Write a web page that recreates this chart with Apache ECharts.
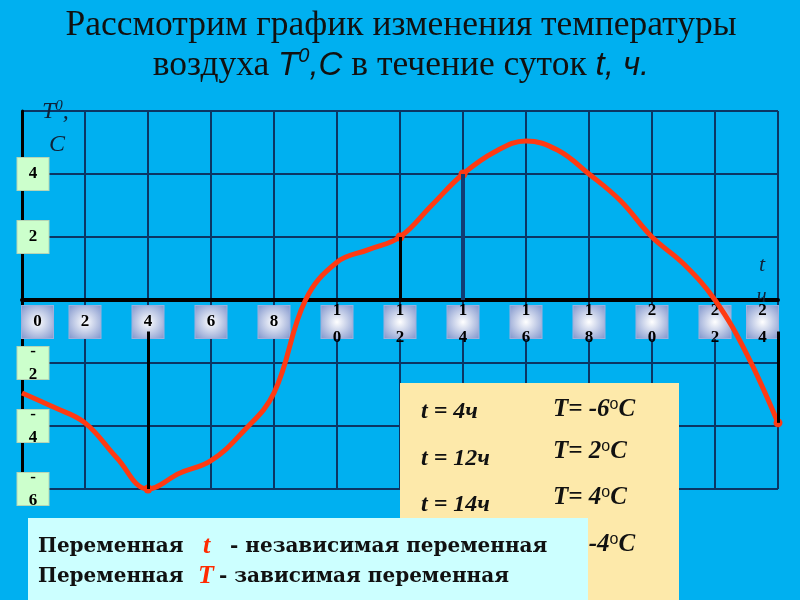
<!DOCTYPE html>
<html><head><meta charset="utf-8">
<script src="https://cdn.jsdelivr.net/npm/echarts@6/dist/echarts.min.js"></script>
<style>html,body{margin:0;padding:0;background:#00b0f0}#c{width:800px;height:600px}</style>
</head><body><div id="c"></div>
<script>
// ---- data ----
const hours = [0,1,2,3,4,5,6,7,8,9,10,11,12,13,14,15,16,17,18,19,20,21,22,23,24];
const temps = [-2.95,-3.4,-3.9,-5.0,-6.0,-5.5,-5.1,-4.2,-2.95,0.0,1.2,1.6,2.0,3.0,4.0,4.7,5.05,4.76,4.0,3.15,2.0,1.15,0.0,-1.7,-3.9];
const markTimes = [4,12,14,24];
const yTickLabels = [-6,-4,-2,2,4];
const tableT = ['t = 4ч','t = 12ч','t = 14ч','t = 24ч'];
const tableV = ['-6','2','4','-4'];
const titleLine1 = 'Рассмотрим график изменения температуры';

const SERIF = '"Liberation Serif","DejaVu Serif",serif';
const WSERIF = '"DejaVu Serif","Liberation Serif",serif';
const SANS = '"Liberation Sans","DejaVu Sans",sans-serif';
const digitFont = {fontFamily: SERIF, fontWeight: 'bold', fontSize: 17, color: '#000', align: 'center'};

const chart = echarts.init(document.getElementById('c'));

const markLineData = markTimes.map(t => {
  const v = temps[hours.indexOf(t)];
  const start = {coord: [t, v]};
  if (t === 14) start.lineStyle = {color: '#123c74', width: 4};
  return [start, {coord: [t, v < 0 ? -1 : 0]}];
});

const graphics = [];
// title
graphics.push({type: 'text', z: 10, style: {text: titleLine1, x: 401, y: 26, align: 'center', verticalAlign: 'middle',
  font: '35.5px ' + SERIF, fill: '#111'}});
graphics.push({type: 'text', z: 10, style: {
  text: '{a|воздуха }{i|T}{sup|0}{i|,C}{a| в течение суток }{i|t, ч.}', x: 401, y: 66, align: 'center', verticalAlign: 'middle',
  rich: {
    a: {fontFamily: SERIF, fontSize: 35.5, fill: '#111'},
    i: {fontFamily: SANS, fontStyle: 'italic', fontSize: 33, fill: '#111'},
    sup: {fontFamily: SANS, fontStyle: 'italic', fontSize: 20, fill: '#111', verticalAlign: 'top', lineHeight: 40}
  }}});
// axis names
graphics.push({type: 'text', z: 10, style: {text: '{t|T}{s|0}{t|,}', x: 42, y: 112, verticalAlign: 'middle',
  rich: {t: {fontFamily: SERIF, fontStyle: 'italic', fontSize: 24, fill: '#0f2238'},
         s: {fontFamily: SERIF, fontStyle: 'italic', fontSize: 15, fill: '#0f2238', verticalAlign: 'top', lineHeight: 26}}}});
graphics.push({type: 'text', z: 10, style: {text: 'C', x: 49, y: 145, verticalAlign: 'middle',
  font: 'italic 24px ' + SERIF, fill: '#0f2238'}});
graphics.push({type: 'text', z: 10, style: {text: 't', x: 759, y: 265, verticalAlign: 'middle',
  font: 'italic 22px ' + SERIF, fill: '#0f2238'}});
graphics.push({type: 'text', z: 1, style: {text: 'ч', x: 757, y: 297, verticalAlign: 'middle',
  font: 'italic 20px ' + SERIF, fill: '#0f2238'}});
// yellow table
graphics.push({type: 'rect', z: 10, shape: {x: 400, y: 383, width: 279, height: 217}, style: {fill: '#fde9aa'}});
const tY = [412, 459, 505, 552];
const vY = [410, 452, 498, 545];
tableT.forEach((s, i) => {
  graphics.push({type: 'text', z: 11, style: {text: s, x: 421, y: tY[i], verticalAlign: 'middle',
    font: 'italic bold 24px ' + SERIF, fill: '#111'}});
  graphics.push({type: 'text', z: 11, style: {text: '{m|T= ' + tableV[i] + '}{o|o}{m|C}', x: 553, y: vY[i], verticalAlign: 'middle',
    rich: {m: {fontFamily: SERIF, fontStyle: 'italic', fontWeight: 'bold', fontSize: 25, fill: '#111'},
           o: {fontFamily: SANS, fontSize: 16, fill: '#111', verticalAlign: 'top', lineHeight: 26}}}});
});
// cyan box
graphics.push({type: 'rect', z: 12, shape: {x: 28, y: 518, width: 560, height: 82}, style: {fill: '#ccffff'}});
const bodyFont = 'bold 20px ' + WSERIF;
const redFont = 'italic bold 26px ' + SERIF;
[[547, 'Переменная', 't', '- независимая переменная', 203, 230], [577, 'Переменная', 'T', '- зависимая переменная', 198, 219]].forEach(r => {
  graphics.push({type: 'text', z: 13, style: {text: r[1], x: 38, y: r[0], verticalAlign: 'middle', font: bodyFont, fill: '#111'}});
  graphics.push({type: 'text', z: 13, style: {text: r[2], x: r[4], y: r[0] - 1, verticalAlign: 'middle', font: redFont, fill: '#ff2a00'}});
  graphics.push({type: 'text', z: 13, style: {text: r[3], x: r[5], y: r[0], verticalAlign: 'middle', font: bodyFont, fill: '#111'}});
});

const option = {
  backgroundColor: '#00b0f0',
  animation: false,
  grid: {left: 22, top: 111, width: 756, height: 378, show: false},
  xAxis: {
    type: 'value', min: 0, max: 24, interval: 2,
    position: 'bottom', offset: -189,
    axisLine: {onZero: false, lineStyle: {color: '#000', width: 4}},
    axisTick: {show: false},
    splitLine: {show: true, lineStyle: {color: '#0b3563', width: 2}},
    axisLabel: {
      margin: 6, width: 31, height: 32,
      align: 'center', alignMinLabel: 'left', alignMaxLabel: 'right',
      backgroundColor: {type: 'radial', x: 0.5, y: 0.5, r: 0.7,
        colorStops: [{offset: 0, color: '#ffffff'}, {offset: 1, color: '#7f94cc'}]},
      borderColor: '#9fb0dc', borderWidth: 1,
      formatter: v => { const s = String(v); return s.length === 1 ? '{s|' + s + '}' : '{u|' + s[0] + '}\n{l|' + s[1] + '}'; },
      rich: {
        s: Object.assign({lineHeight: 32}, digitFont),
        u: Object.assign({lineHeight: 10}, digitFont),
        l: Object.assign({lineHeight: 44}, digitFont)
      }
    }
  },
  yAxis: {
    type: 'value', min: -6, max: 6, interval: 2,
    axisLine: {show: true, onZero: false, lineStyle: {color: '#000', width: 3}},
    axisTick: {show: false},
    splitLine: {show: true, lineStyle: {color: '#0b3563', width: 2}},
    axisLabel: {
      customValues: yTickLabels,
      margin: -11, align: 'center', width: 31, height: 32,
      backgroundColor: '#ccffcc', borderColor: '#b6d6b6', borderWidth: 1,
      formatter: v => v < 0 ? '{u|-}\n{n|' + (-v) + '}' : '{s|' + v + '}',
      rich: {
        s: Object.assign({lineHeight: 32}, digitFont),
        u: Object.assign({lineHeight: 10}, digitFont),
        n: Object.assign({lineHeight: 36}, digitFont)
      }
    }
  },
  series: [{
    type: 'line', z: 3,
    data: hours.map((h, i) => [h, temps[i]]),
    smooth: 0.4,
    symbol: 'circle',
    showSymbol: true,
    symbolSize: v => markTimes.indexOf(v[0]) >= 0 ? 9 : 0,
    itemStyle: {color: '#ff3a12'},
    lineStyle: {color: '#ff3a12', width: 5},
    markLine: {silent: true, symbol: 'none', label: {show: false},
      lineStyle: {color: '#000', width: 3, type: 'solid'}, data: markLineData}
  }],
  graphic: graphics
};
chart.setOption(option);
</script></body></html>
